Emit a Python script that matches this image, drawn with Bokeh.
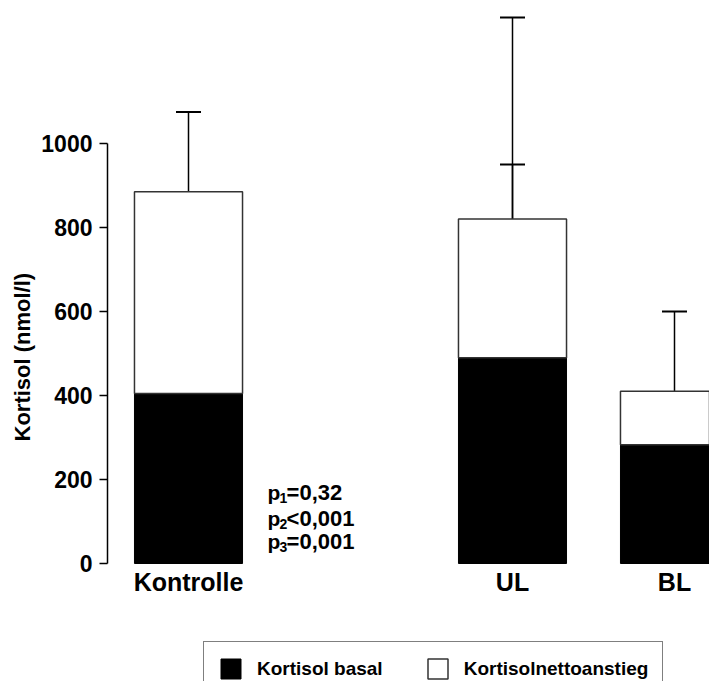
from bokeh.plotting import figure
from bokeh.models import (Range1d, FixedTicker, Legend, LegendItem, Title,
                          ColumnDataSource, Whisker, TeeHead)
from bokeh.embed import file_html
from bokeh.resources import INLINE
from bokeh.core.properties import value

# ---- data ----
groups = ["Kontrolle", "UL", "BL"]
positions = [1, 3, 4]
basal = [405, 490, 283]
total = [885, 820, 410]
basal_err_top = [575, 950, 400]
total_err_top = [1075, 1300, 600]
y_ticks = [0, 200, 400, 600, 800, 1000]
p_index = ["1", "2", "3"]
p_text = ["=0,32", "<0,001", "=0,001"]
p_y = [169, 107, 52]
series_names = ["Kortisol basal", "Kortisolnettoanstieg"]

FONT = "Liberation Sans"
PX_PER_UNIT_Y = 0.42
PX_PER_UNIT_X = 162
W, H = 709, 681
LEFT, TOP = 107, 8
ZERO_Y = 563

p = figure(width=W, height=H, output_backend="svg", toolbar_location=None,
           x_range=Range1d(0.5, 0.5 + (W - LEFT) / PX_PER_UNIT_X),
           y_range=Range1d(-(H - ZERO_Y) / PX_PER_UNIT_Y, (ZERO_Y - TOP) / PX_PER_UNIT_Y),
           min_border_left=LEFT, min_border_right=0, min_border_top=TOP,
           min_border_bottom=0)
p.outline_line_color = None
p.xgrid.visible = False
p.ygrid.visible = False
p.xaxis.visible = False
p.background_fill_color = "white"

src = ColumnDataSource(dict(x=positions, basal=basal, total=total,
                            bet=basal_err_top, tet=total_err_top, name=groups))

r_basal = p.vbar(x="x", width=0.667, bottom=0, top="basal", source=src,
                 fill_color="black", line_color="black", line_width=1)
r_net = p.vbar(x="x", width=0.667, bottom="basal", top="total", source=src,
               fill_color="white", line_color="#333333", line_width=1.5)

for upper, lower in (("bet", "basal"), ("tet", "total")):
    w = Whisker(base="x", lower=lower, upper=upper, source=src, dimension="height",
                line_color="black", line_width=1.5,
                upper_head=TeeHead(size=25, line_color="black", line_width=2),
                lower_head=None)
    p.add_layout(w)

# y axis
ya = p.yaxis[0]
ya.ticker = FixedTicker(ticks=y_ticks)
ya.bounds = (0, 1000)
ya.minor_tick_line_color = None
ya.major_tick_in = 0
ya.major_tick_out = 8
ya.axis_line_width = 1.5
ya.major_tick_line_width = 1.5
ya.major_label_text_font = FONT
ya.major_label_text_font_style = "bold"
ya.major_label_text_font_size = "23px"
ya.major_label_text_color = "black"
ya.major_label_standoff = 7

# y title
p.add_layout(Title(text="Kortisol (nmol/l)", align="left", offset=240,
                   text_font=FONT, text_font_style="bold",
                   text_font_size="22px", text_color="black", standoff=8), "left")

# group labels
p.text(x="x", y=0, text="name", source=src, y_offset=4,
       text_font=value(FONT), text_font_style="bold", text_font_size="25px",
       text_baseline="top", text_align="center", text_color="black")

# p-values
px = 1.488
p.text(x=[px] * 3, y=p_y, text=["p"] * 3, text_font=value(FONT),
       text_font_style="bold", text_font_size="21px", text_baseline="middle",
       text_align="left", text_color="black")
p.text(x=[px] * 3, y=p_y, text=p_index, x_offset=12, y_offset=5,
       text_font=value(FONT), text_font_style="bold", text_font_size="14px",
       text_baseline="middle", text_align="left", text_color="black")
p.text(x=[px] * 3, y=p_y, text=p_text, x_offset=19,
       text_font=value(FONT), text_font_style="bold", text_font_size="22px",
       text_baseline="middle", text_align="left", text_color="black")

legend = Legend(items=[LegendItem(label=series_names[0], renderers=[r_basal]),
                       LegendItem(label=series_names[1], renderers=[r_net])],
                orientation="horizontal", location=(96, -15),
                glyph_width=25, glyph_height=25, label_standoff=14,
                label_height=25, padding=14, spacing=42, margin=0,
                border_line_color="black", border_line_width=1.5,
                label_text_font=FONT, label_text_font_style="bold",
                label_text_font_size="19px", label_text_color="black",
                background_fill_alpha=1)
p.add_layout(legend, "center")

open("out.html", "w").write(file_html(p, INLINE))
